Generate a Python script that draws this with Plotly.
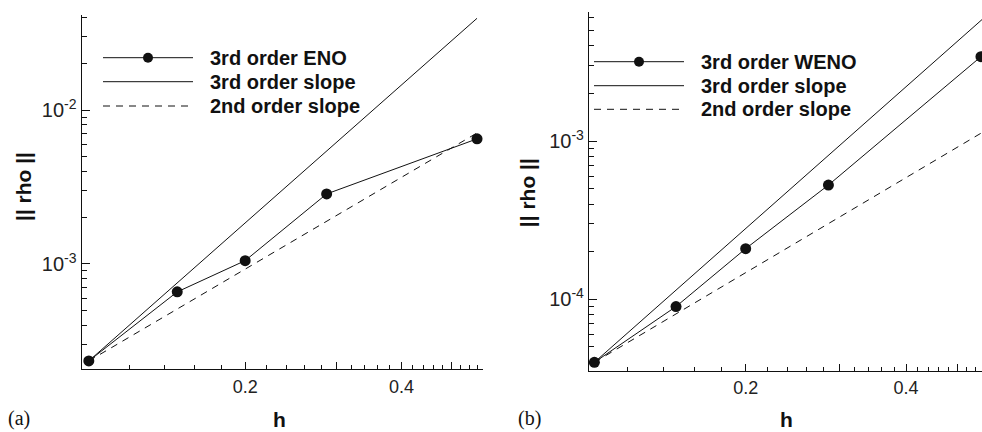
import math
import plotly.graph_objects as go

W, H = 982, 432

# ---------------- data ----------------
# panel (a): 3rd order ENO
h_a = [0.100, 0.148, 0.200, 0.287, 0.559]
rho_eno = [2.34e-4, 6.58e-4, 1.05e-3, 2.85e-3, 6.50e-3]
slope3_a_x = [0.100, 0.559]
slope3_a_y = [2.34e-4, 0.0395]
slope2_a_x = [0.100, 0.559]
slope2_a_y = [2.34e-4, 7.1e-3]

# panel (b): 3rd order WENO
h_b = [0.104, 0.148, 0.200, 0.286, 0.553]
rho_weno = [4.0e-5, 9.0e-5, 2.09e-4, 5.27e-4, 3.41e-3]
slope3_b_x = [0.104, 0.5555]
slope3_b_y = [4.0e-5, 5.85e-3]
slope2_b_x = [0.104, 0.5555]
slope2_b_y = [4.0e-5, 1.13e-3]

# ticks
x_tickvals = [0.2, 0.3, 0.4, 0.5]
x_ticktext = ["0.2", "", "0.4", ""]
x_minor = [0.12, 0.14, 0.16, 0.18, 0.22, 0.24, 0.26, 0.28, 0.32, 0.34,
           0.36, 0.38, 0.42, 0.44, 0.46, 0.48, 0.52, 0.54, 0.56]
ya_tickvals = [1e-3, 1e-2]
ya_ticktext = ["10<sup>-3</sup>", "10<sup>-2</sup>"]
ya_minor = [3e-4, 4e-4, 5e-4, 6e-4, 7e-4, 8e-4, 9e-4,
            2e-3, 3e-3, 4e-3, 5e-3, 6e-3, 7e-3, 8e-3, 9e-3,
            2e-2, 3e-2, 4e-2]
yb_tickvals = [1e-4, 1e-3]
yb_ticktext = ["10<sup>-4</sup>", "10<sup>-3</sup>"]
yb_minor = [4e-5, 5e-5, 6e-5, 7e-5, 8e-5, 9e-5,
            2e-4, 3e-4, 4e-4, 5e-4, 6e-4, 7e-4, 8e-4, 9e-4,
            2e-3, 3e-3, 4e-3, 5e-3, 6e-3]

legend_a = ["3rd order ENO", "3rd order slope", "2nd order slope"]
legend_b = ["3rd order WENO", "3rd order slope", "2nd order slope"]

# ---------------- style ----------------
INK = "#111111"
FONT = "Liberation Sans, Arial, Helvetica, sans-serif"
SERIF = "Liberation Serif, Times New Roman, serif"
DASH = "7px,6px"


def px_x(p):
    return p / W


def px_y(p):
    return 1 - p / H


fig = go.Figure()

# panel (a)
fig.add_trace(go.Scatter(x=slope3_a_x, y=slope3_a_y, mode="lines",
                         line=dict(color=INK, width=1), xaxis="x", yaxis="y",
                         showlegend=False, name="3rd order slope"))
fig.add_trace(go.Scatter(x=slope2_a_x, y=slope2_a_y, mode="lines",
                         line=dict(color=INK, width=1, dash=DASH), xaxis="x", yaxis="y",
                         showlegend=False, name="2nd order slope"))
fig.add_trace(go.Scatter(x=h_a, y=rho_eno, mode="lines+markers",
                         line=dict(color=INK, width=1),
                         marker=dict(color=INK, size=11, symbol="circle"),
                         xaxis="x", yaxis="y", showlegend=False, name="3rd order ENO"))

# panel (b)
fig.add_trace(go.Scatter(x=slope3_b_x, y=slope3_b_y, mode="lines",
                         line=dict(color=INK, width=1), xaxis="x2", yaxis="y2",
                         showlegend=False, name="3rd order slope"))
fig.add_trace(go.Scatter(x=slope2_b_x, y=slope2_b_y, mode="lines",
                         line=dict(color=INK, width=1, dash=DASH), xaxis="x2", yaxis="y2",
                         showlegend=False, name="2nd order slope"))
fig.add_trace(go.Scatter(x=h_b, y=rho_weno, mode="lines+markers",
                         line=dict(color=INK, width=1),
                         marker=dict(color=INK, size=11, symbol="circle"),
                         xaxis="x2", yaxis="y2", showlegend=False, name="3rd order WENO"))

# geometry (pixels)
A = dict(x0=81.7, x1=483.0, y0=15.0, y1=369.3, xr=(0.0969, 0.574), yr=(2.065e-4, 0.0415))
B = dict(x0=589.0, x1=982.0, y0=11.7, y1=370.7, xr=(0.1016, 0.5555), yr=(3.54e-5, 6.56e-3))


def xaxis(p, anchor):
    return dict(type="log", domain=[px_x(p["x0"]), px_x(p["x1"])],
                range=[math.log10(p["xr"][0]), math.log10(p["xr"][1])],
                anchor=anchor, showline=True, linecolor=INK, linewidth=1.3,
                mirror=False, showgrid=False, zeroline=False,
                tickmode="array", tickvals=x_tickvals, ticktext=x_ticktext,
                ticks="inside", ticklen=7, tickwidth=1, tickcolor=INK,
                minor=dict(tickmode="array", tickvals=x_minor, ticks="inside",
                           ticklen=4, tickwidth=1, tickcolor=INK, showgrid=False),
                tickfont=dict(family=FONT, size=18, color="#222222"),
                ticklabelstandoff=1)


def yaxis(p, anchor, tv, tt, mn):
    return dict(type="log", domain=[px_y(p["y1"]), px_y(p["y0"])],
                range=[math.log10(p["yr"][0]), math.log10(p["yr"][1])],
                anchor=anchor, showline=True, linecolor=INK, linewidth=1.3,
                mirror=False, showgrid=False, zeroline=False,
                tickmode="array", tickvals=tv, ticktext=tt,
                ticks="inside", ticklen=8, tickwidth=1, tickcolor=INK,
                minor=dict(tickmode="array", tickvals=mn, ticks="inside",
                           ticklen=5, tickwidth=1, tickcolor=INK, showgrid=False),
                tickfont=dict(family=FONT, size=20, color="#222222"),
                ticklabelstandoff=0)


fig.update_layout(
    width=W, height=H, autosize=False,
    margin=dict(l=0, r=0, t=0, b=0, pad=0),
    paper_bgcolor="white", plot_bgcolor="white",
    showlegend=False,
    xaxis=xaxis(A, "y"),
    yaxis=yaxis(A, "x", ya_tickvals, ya_ticktext, ya_minor),
    xaxis2=xaxis(B, "y2"),
    yaxis2=yaxis(B, "x2", yb_tickvals, yb_ticktext, yb_minor),
)

annotations = []
shapes = []

# axis titles and panel labels
for cx in [279, 786]:
    annotations.append(dict(text="<b>h</b>", x=px_x(cx), y=px_y(419), xref="paper", yref="paper",
                            showarrow=False, xanchor="center", yanchor="middle",
                            font=dict(family=FONT, size=21, color=INK)))
for lbl, lx in [("(a)", 19), ("(b)", 529.5)]:
    annotations.append(dict(text=lbl, x=px_x(lx), y=px_y(418), xref="paper", yref="paper",
                            showarrow=False, xanchor="center", yanchor="middle",
                            font=dict(family=SERIF, size=20, color=INK)))
for rx, ry in [(23.3, 186.7), (527.7, 192.5)]:
    annotations.append(dict(text="<b>|| rho ||</b>", x=px_x(rx), y=px_y(ry), xref="paper", yref="paper",
                            showarrow=False, xanchor="center", yanchor="middle", textangle=-90,
                            font=dict(family=FONT, size=21, color=INK)))

# hand-drawn legends (sample line 90 px long as in the original)
for names, lx0, rows in [(legend_a, 103, [57.7, 81.7, 106.0]), (legend_b, 594, [61.7, 85.7, 109.3])]:
    for i, (name, ry) in enumerate(zip(names, rows)):
        shapes.append(dict(type="line", xref="paper", yref="paper",
                           x0=px_x(lx0), x1=px_x(lx0 + 90), y0=px_y(ry), y1=px_y(ry),
                           line=dict(color=INK, width=1, dash=DASH if i == 2 else "solid")))
        if i == 0:
            r = 5.0
            cx = lx0 + 45
            shapes.append(dict(type="circle", xref="paper", yref="paper",
                               x0=px_x(cx - r), x1=px_x(cx + r), y0=px_y(ry + r), y1=px_y(ry - r),
                               fillcolor=INK, line=dict(color=INK, width=0)))
        annotations.append(dict(text="<b>%s</b>" % name, x=px_x(lx0 + 105), y=px_y(ry),
                                xref="paper", yref="paper", showarrow=False,
                                xanchor="left", yanchor="middle",
                                font=dict(family=FONT, size=20, color=INK)))

fig.update_layout(annotations=annotations, shapes=shapes)

fig.write_html("out.html")
